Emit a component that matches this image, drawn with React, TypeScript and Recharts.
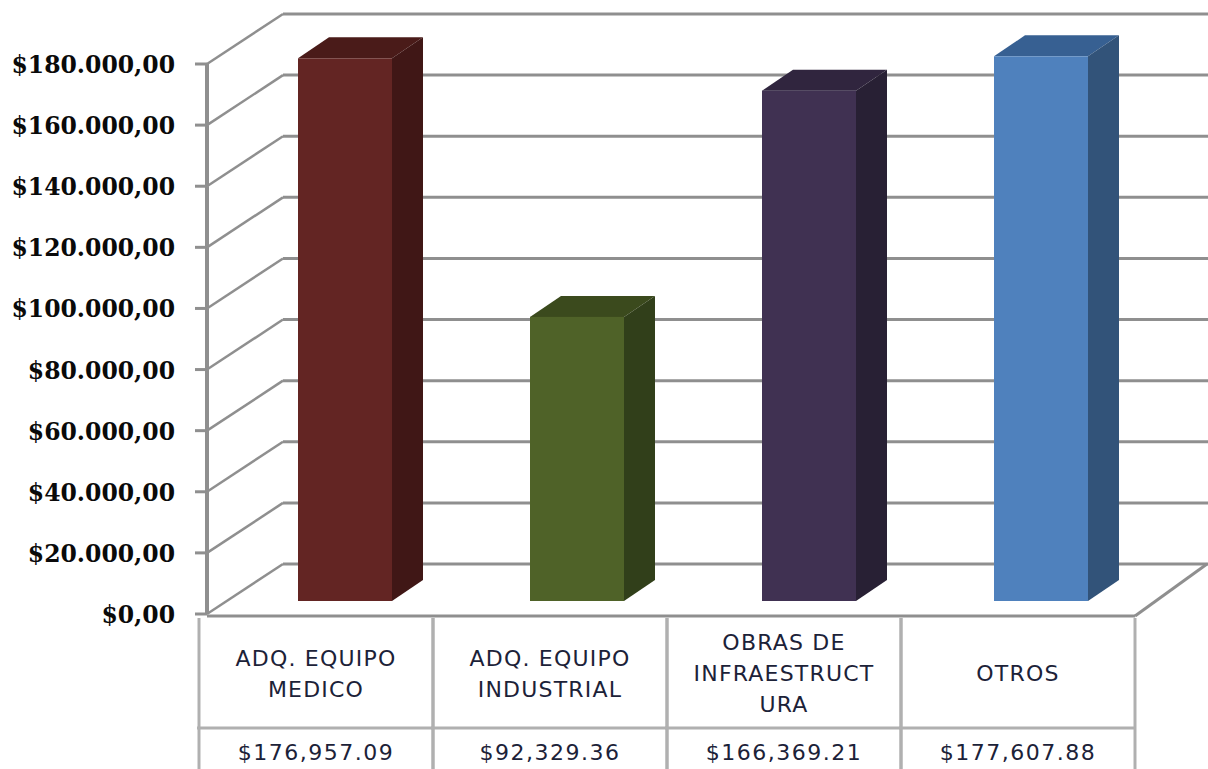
import React from 'react';
import { BarChart, Bar, XAxis, YAxis, CartesianGrid } from 'recharts';

const categories = ['ADQ. EQUIPO\nMEDICO', 'ADQ. EQUIPO\nINDUSTRIAL', 'OBRAS DE\nINFRAESTRUCT\nURA', 'OTROS'];
const amounts = [176957.09, 92329.36, 166369.21, 177607.88];
const yTicks = [0, 20000, 40000, 60000, 80000, 100000, 120000, 140000, 160000, 180000];
const frontColors = ['#632523', '#4f6228', '#403152', '#4f81bd'];
const sideColors = ['#401716', '#313f1a', '#282034', '#325379'];
const topColors = ['#4a1b19', '#3b4a1d', '#30253e', '#376092'];

const data = categories.map((name, i) => ({ name, amount: amounts[i] }));

const GRID = '#8f8f8f';
const TABLE = '#b0b0b0';

// the fake 3D wall, floor and axis all hang off the y axis gridlines
const WallLine = ({ x1, y1, y2, x2 }: any) => {
  const isFloor = y1 > 600;
  const backX = x1 + 83;
  const backY = y1 - 50;
  return (
    <g fill="none" stroke={GRID} strokeWidth={3}>
      <line x1={x1 - 5} y1={y1} x2={x1 + 7} y2={y1} />
      <line x1={x1 + 7} y1={y1} x2={backX} y2={backY} strokeWidth={2.5} />
      <line x1={backX} y1={backY} x2={x2 + 80} y2={backY} />
      {!isFloor && <line x1={x1 + 7} y1={y1} x2={x1 + 7} y2={y1 + 61} strokeWidth={4} />}
      {isFloor && <line x1={x1 + 7} y1={y1 + 2} x2={x1 + 935} y2={y2 + 2} />}
      {isFloor && <line x1={x1 + 935} y1={y1 + 2} x2={x2 + 79} y2={backY} />}
    </g>
  );
};

const MoneyTick = ({ x, y, payload }: any) => (
  <text
    x={x - 17}
    y={y + 9}
    textAnchor="end"
    fontFamily="'DejaVu Serif', serif"
    fontWeight="bold"
    fontSize={23.5}
    fill="#0a0a0a"
  >
    {'$' + payload.value.toLocaleString('de-DE', { minimumFractionDigits: 2 })}
  </text>
);

// each tick draws one column of the data table below the plot
const TableTick = ({ x, payload, index }: any) => {
  const cx = x + index * 2;
  const lines = String(payload.value).split('\n');
  const firstY = 681 - ((lines.length - 1) * 31) / 2;
  return (
    <g fontFamily="'DejaVu Sans', sans-serif" fontSize={22} fill="#1c2238" textAnchor="middle">
      <line x1={cx - 117} y1={618} x2={cx - 117} y2={769} stroke={TABLE} strokeWidth={3} />
      <line x1={cx + 117} y1={618} x2={cx + 117} y2={769} stroke={TABLE} strokeWidth={3} />
      <line x1={cx - 119} y1={728} x2={cx + 117} y2={728} stroke={TABLE} strokeWidth={3} />
      {lines.map((line, i) => (
        <text key={i} x={cx} y={firstY + i * 31} letterSpacing={1.2}>{line}</text>
      ))}
      <text x={cx} y={760} letterSpacing={1.5}>
        {'$' + amounts[index].toLocaleString('en-US', { minimumFractionDigits: 2 })}
      </text>
    </g>
  );
};

const Box3D = ({ x, y, width, height, index }: any) => {
  const left = x + 29;
  const right = left + width;
  const top = y - 15;
  const bottom = y + height - 13;
  const dx = 31;
  const dy = 21;
  return (
    <g>
      <polygon points={`${left},${top} ${left + dx},${top - dy} ${right + dx},${top - dy} ${right},${top}`} fill={topColors[index]} />
      <polygon points={`${right},${top} ${right + dx},${top - dy} ${right + dx},${bottom - dy} ${right},${bottom}`} fill={sideColors[index]} />
      <rect x={left} y={top} width={width} height={bottom - top} fill={frontColors[index]} />
    </g>
  );
};

export default function App() {
  return (
    <div style={{ position: 'absolute', left: 0, top: 0, width: 1208, height: 769, background: '#fff', overflow: 'hidden' }}>
      <BarChart width={1208} height={769} data={data} margin={{ top: 64, right: 80, bottom: 0, left: 0 }}>
        <CartesianGrid vertical={false} horizontal={(props: any) => <WallLine key={props.index} {...props} />} />
        <XAxis dataKey="name" height={155} axisLine={false} tickLine={false} interval={0} tick={<TableTick />} />
        <YAxis
          width={200}
          domain={[0, 180000]}
          ticks={yTicks}
          interval={0}
          axisLine={false}
          tickLine={false}
          tick={<MoneyTick />}
        />
        <Bar dataKey="amount" barSize={94} shape={<Box3D />} isAnimationActive={false} />
      </BarChart>
    </div>
  );
}
